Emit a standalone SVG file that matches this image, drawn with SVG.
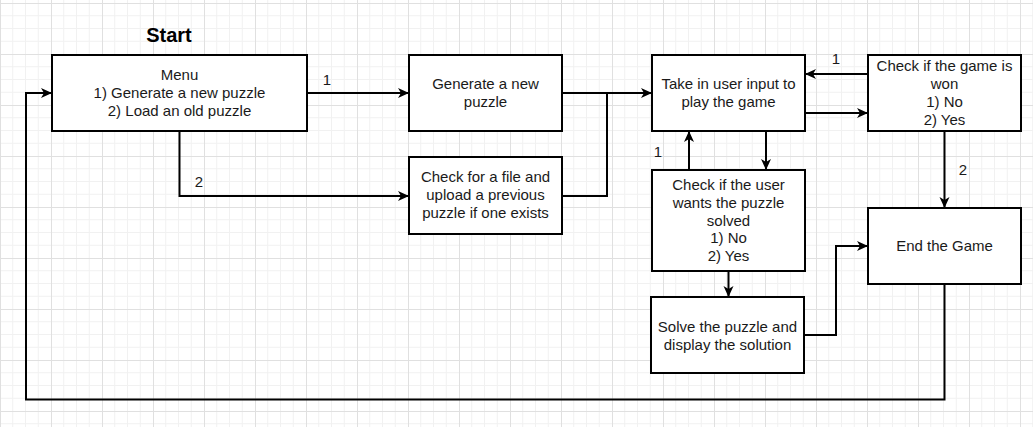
<svg xmlns="http://www.w3.org/2000/svg" width="1033" height="427" viewBox="0 0 1033 427">
  <style>
    .box { fill: #ffffff; stroke: #000000; stroke-width: 2; }
    .t { font-family: "Liberation Sans", Arial, sans-serif; font-size: 15px; fill: #1a1a1a; text-anchor: middle; }
    .lbl { font-family: "Liberation Sans", Arial, sans-serif; font-size: 15px; fill: #1a1a1a; text-anchor: middle; }
    .title { font-family: "Liberation Sans", Arial, sans-serif; font-size: 20px; font-weight: bold; fill: #000000; text-anchor: middle; }
    .edge { fill: none; stroke: #000000; stroke-width: 2; }
    .arr { marker-end: url(#arrow); }
  </style>
  <defs>
    <pattern id="grid" patternUnits="userSpaceOnUse" x="0" y="3" width="51" height="51">
      <path d="M12.75 0V51M25.5 0V51M38.25 0V51M0 12.75H51M0 25.5H51M0 38.25H51" stroke="#f1f1f1" stroke-width="1" fill="none"/>
      <path d="M0.5 0V51M0 0.5H51" stroke="#e0e0e0" stroke-width="1" fill="none"/>
    </pattern>
    <marker id="arrow" markerUnits="userSpaceOnUse" markerWidth="12" markerHeight="12" viewBox="0 0 12 10" refX="11" refY="5" orient="auto">
      <path d="M0 0L11 5L0 10L3 5Z" fill="#000000"/>
    </marker>
  </defs>
  <rect x="0" y="0" width="1033" height="427" fill="#ffffff"/>
  <rect x="0" y="0" width="1033" height="427" fill="url(#grid)"/>

  <text class="title" x="169" y="42">Start</text>

  <g id="connectors">
    <path class="edge arr" d="M307 93H409"/>
    <path class="edge arr" d="M179.5 131V196H409"/>
    <path class="edge arr" d="M562 93H652"/>
    <path class="edge" d="M562 196H607V93"/>
    <path class="edge arr" d="M868 74H805"/>
    <path class="edge arr" d="M805 113H868"/>
    <path class="edge arr" d="M944.5 131V208"/>
    <path class="edge arr" d="M766 131V170"/>
    <path class="edge arr" d="M689 170V131"/>
    <path class="edge arr" d="M728.5 271V297"/>
    <path class="edge arr" d="M804 335H836V246H868"/>
    <path class="edge arr" d="M944.5 284V399.5H26V93H52"/>
    <text class="lbl" x="327" y="85">1</text>
    <text class="lbl" x="199" y="187">2</text>
    <text class="lbl" x="836" y="64">1</text>
    <text class="lbl" x="658" y="157">1</text>
    <text class="lbl" x="963" y="175">2</text>
  </g>

  <g id="menu">
    <rect class="box" x="52" y="55" width="255" height="76"/>
    <text class="t" x="179.5" y="80">Menu</text>
    <text class="t" x="179.5" y="98">1) Generate a new puzzle</text>
    <text class="t" x="179.5" y="116">2) Load an old puzzle</text>
  </g>

  <g id="generate">
    <rect class="box" x="409" y="55" width="153" height="76"/>
    <text class="t" x="485.5" y="89">Generate a new</text>
    <text class="t" x="485.5" y="107">puzzle</text>
  </g>

  <g id="checkfile">
    <rect class="box" x="409" y="157" width="153" height="77"/>
    <text class="t" x="485.5" y="182">Check for a file and</text>
    <text class="t" x="485.5" y="200">upload a previous</text>
    <text class="t" x="485.5" y="218">puzzle if one exists</text>
  </g>

  <g id="input">
    <rect class="box" x="652" y="55" width="153" height="76"/>
    <text class="t" x="728.5" y="89">Take in user input to</text>
    <text class="t" x="728.5" y="107">play the game</text>
  </g>

  <g id="checkwon">
    <rect class="box" x="868" y="55" width="153" height="76"/>
    <text class="t" x="944.5" y="71">Check if the game is</text>
    <text class="t" x="944.5" y="89">won</text>
    <text class="t" x="944.5" y="107">1) No</text>
    <text class="t" x="944.5" y="125">2) Yes</text>
  </g>

  <g id="checksolve">
    <rect class="box" x="652" y="170" width="153" height="101"/>
    <text class="t" x="728.5" y="190">Check if the user</text>
    <text class="t" x="728.5" y="208">wants the puzzle</text>
    <text class="t" x="728.5" y="226">solved</text>
    <text class="t" x="728.5" y="243">1) No</text>
    <text class="t" x="728.5" y="261">2) Yes</text>
  </g>

  <g id="solve">
    <rect class="box" x="651" y="297" width="153" height="76"/>
    <text class="t" x="727.5" y="332">Solve the puzzle and</text>
    <text class="t" x="727.5" y="350">display the solution</text>
  </g>

  <g id="end">
    <rect class="box" x="868" y="208" width="153" height="76"/>
    <text class="t" x="944.5" y="251">End the Game</text>
  </g>
</svg>
